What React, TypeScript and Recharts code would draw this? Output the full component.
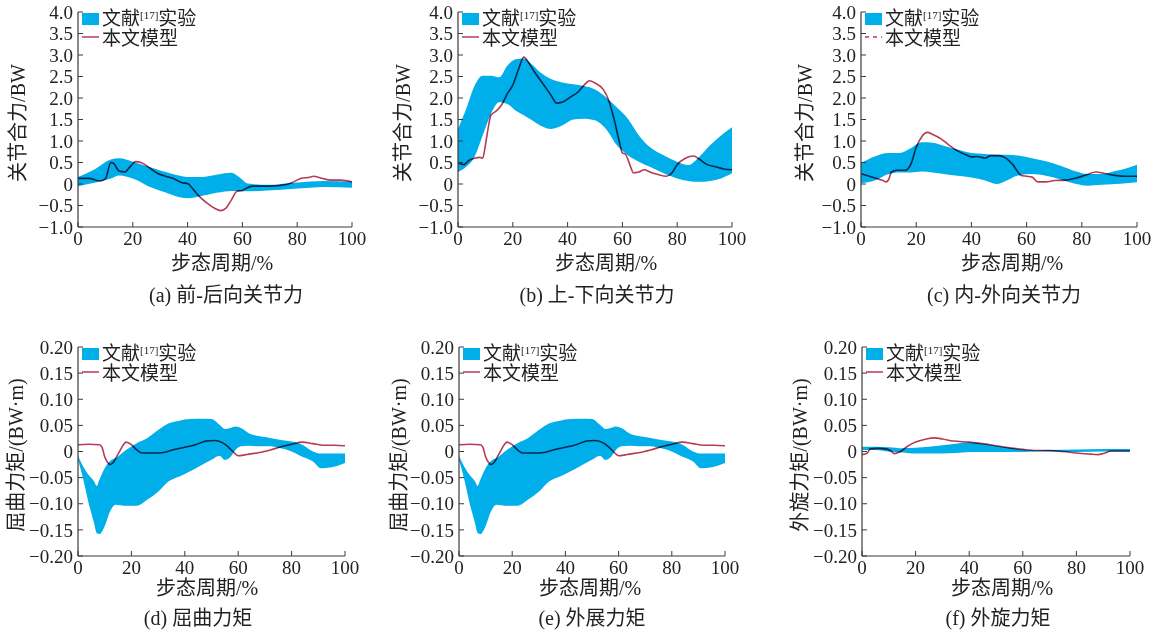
import { ComposedChart, Area, Line, XAxis, YAxis, Legend } from "recharts";

// ── (a) 前-后向关节力 ──
const aBandX = [0, 6, 12, 15, 20, 27, 33, 38, 40, 45, 51, 56, 59, 62, 69, 79, 90, 100];
const aBandHi = [0.16, 0.34, 0.57, 0.6, 0.52, 0.38, 0.26, 0.18, 0.16, 0.16, 0.22, 0.26, 0.15, 0.01, -0.02, 0.03, 0.07, 0.05];
const aBandLo = [-0.05, 0.03, 0.13, 0.2, 0.13, -0.09, -0.22, -0.32, -0.33, -0.28, -0.2, -0.16, -0.16, -0.17, -0.15, -0.11, -0.07, -0.09];
const aLineX = [0, 4, 8, 10, 12, 13, 15, 17, 19, 21, 23, 26, 29, 32, 35, 38, 40, 42, 44, 47, 50, 52, 54, 56, 58, 60, 62, 64, 70, 76, 78, 82, 84, 86, 88, 92, 96, 100];
const aLineY = [0.13, 0.13, 0.07, 0.12, 0.5, 0.48, 0.3, 0.28, 0.4, 0.52, 0.5, 0.38, 0.25, 0.18, 0.12, 0.03, 0.01, -0.12, -0.27, -0.44, -0.57, -0.62, -0.56, -0.37, -0.17, -0.15, -0.08, -0.05, -0.05, -0.01, 0.03, 0.14, 0.15, 0.18, 0.15, 0.09, 0.09, 0.05];

// ── (b) 上-下向关节力 ──
const bBandX = [0, 3, 6, 9, 12, 15, 18, 21, 24, 27, 30, 34, 38, 42, 46, 50, 54, 58, 62, 66, 70, 75, 80, 84, 88, 92, 96, 100];
const bBandHi = [1.28, 1.75, 2.28, 2.52, 2.52, 2.48, 2.75, 2.9, 2.92, 2.78, 2.6, 2.44, 2.36, 2.32, 2.28, 2.2, 2.02, 1.78, 1.52, 1.13, 0.86, 0.67, 0.52, 0.44, 0.63, 0.9, 1.13, 1.32];
const bBandLo = [0.28, 0.4, 0.63, 1.13, 1.63, 1.9, 1.86, 1.71, 1.6, 1.48, 1.36, 1.28, 1.36, 1.5, 1.52, 1.48, 1.28, 0.9, 0.67, 0.52, 0.4, 0.25, 0.13, 0.07, 0.05, 0.07, 0.13, 0.25];
const bLineX = [0, 2, 4, 6, 8, 9, 10, 11, 12, 14, 16, 18, 20, 22, 24, 26, 28, 31, 34, 36, 38, 41, 44, 46, 48, 50, 53, 55, 57, 59, 60, 61, 63, 64, 66, 68, 70, 73, 76, 78, 80, 83, 86, 88, 91, 94, 97, 100];
const bLineY = [0.5, 0.45, 0.55, 0.6, 0.62, 0.6, 0.9, 1.3, 1.6, 1.7, 1.85, 2.1, 2.3, 2.65, 2.95, 2.8, 2.6, 2.33, 2.06, 1.88, 1.9, 2.02, 2.15, 2.3, 2.4, 2.35, 2.2, 1.95, 1.5, 0.95, 0.72, 0.7, 0.4, 0.26, 0.28, 0.33, 0.28, 0.22, 0.18, 0.25, 0.45, 0.6, 0.65, 0.58, 0.45, 0.4, 0.35, 0.33];

// ── (c) 内-外向关节力 ──
const cBandX = [0, 5, 10, 14, 18, 22, 26, 30, 35, 40, 45, 49, 53, 57, 62, 67, 72, 78, 82, 87, 92, 96, 100];
const cBandHi = [0.49, 0.64, 0.72, 0.72, 0.83, 0.97, 0.96, 0.89, 0.8, 0.72, 0.7, 0.68, 0.68, 0.66, 0.6, 0.53, 0.43, 0.29, 0.23, 0.23, 0.3, 0.36, 0.45];
const cBandLo = [0.02, 0.08, 0.23, 0.27, 0.27, 0.29, 0.27, 0.23, 0.19, 0.15, 0.08, 0.0, 0.09, 0.2, 0.23, 0.19, 0.11, 0.0, -0.04, -0.02, 0.0, 0.02, 0.04];
const cLineX = [0, 3, 6, 8, 9, 10, 11, 13, 16, 18, 20, 22, 24, 26, 29, 32, 35, 38, 40, 42, 45, 47, 50, 52, 55, 58, 60, 62, 64, 67, 70, 74, 78, 82, 85, 88, 92, 96, 100];
const cLineY = [0.24, 0.18, 0.12, 0.08, 0.05, 0.1, 0.28, 0.32, 0.32, 0.45, 0.85, 1.1, 1.2, 1.15, 1.05, 0.9, 0.77, 0.68, 0.63, 0.64, 0.6, 0.66, 0.66, 0.62, 0.45, 0.2, 0.18, 0.16, 0.05, 0.05, 0.08, 0.09, 0.14, 0.22, 0.28, 0.25, 0.2, 0.18, 0.18];

// ── (d) 屈曲力矩 ──
const dBandX = [0, 2, 4, 6, 7, 8, 10, 12, 14, 18, 22, 26, 30, 34, 38, 42, 46, 50, 53, 55, 57, 59, 61, 64, 68, 72, 76, 80, 84, 88, 91, 95, 100];
const dBandHi = [-0.008, -0.029, -0.045, -0.057, -0.066, -0.054, -0.032, -0.018, -0.013, 0.003, 0.016, 0.026, 0.041, 0.054, 0.059, 0.062, 0.0625, 0.062, 0.051, 0.043, 0.045, 0.048, 0.045, 0.035, 0.029, 0.026, 0.022, 0.019, 0.013, 0.0, -0.004, -0.004, -0.004];
const dBandLo = [-0.016, -0.054, -0.099, -0.137, -0.156, -0.158, -0.143, -0.115, -0.102, -0.104, -0.104, -0.092, -0.077, -0.057, -0.048, -0.038, -0.027, -0.016, -0.008, -0.016, -0.011, 0.003, 0.01, 0.011, 0.01, 0.01, 0.006, 0.0, -0.01, -0.019, -0.032, -0.03, -0.022];
const dLineX = [0, 4, 8, 9, 10, 11, 12, 13, 15, 17, 18, 20, 22, 24, 28, 32, 36, 40, 44, 48, 51, 54, 56, 58, 60, 62, 64, 68, 72, 76, 80, 84, 88, 92, 96, 100];
const dLineY = [0.013, 0.014, 0.013, 0.008, -0.01, -0.02, -0.025, -0.022, -0.005, 0.013, 0.018, 0.013, 0.003, -0.003, -0.003, -0.002, 0.004, 0.008, 0.013, 0.02, 0.021, 0.017, 0.01, 0.0, -0.008, -0.007, -0.005, -0.002, 0.003, 0.009, 0.014, 0.018, 0.015, 0.012, 0.012, 0.011];

// ── (e) 外展力矩 (same curves as d in the source figure) ──
const eBandX = [0, 2, 4, 6, 7, 8, 10, 12, 14, 18, 22, 26, 30, 34, 38, 42, 46, 50, 53, 55, 57, 59, 61, 64, 68, 72, 76, 80, 84, 88, 91, 95, 100];
const eBandHi = [-0.008, -0.029, -0.045, -0.057, -0.066, -0.054, -0.032, -0.018, -0.013, 0.003, 0.016, 0.026, 0.041, 0.054, 0.059, 0.062, 0.0625, 0.062, 0.051, 0.043, 0.045, 0.048, 0.045, 0.035, 0.029, 0.026, 0.022, 0.019, 0.013, 0.0, -0.004, -0.004, -0.004];
const eBandLo = [-0.016, -0.054, -0.099, -0.137, -0.156, -0.158, -0.143, -0.115, -0.102, -0.104, -0.104, -0.092, -0.077, -0.057, -0.048, -0.038, -0.027, -0.016, -0.008, -0.016, -0.011, 0.003, 0.01, 0.011, 0.01, 0.01, 0.006, 0.0, -0.01, -0.019, -0.032, -0.03, -0.022];
const eLineX = [0, 4, 8, 9, 10, 11, 12, 13, 15, 17, 18, 20, 22, 24, 28, 32, 36, 40, 44, 48, 51, 54, 56, 58, 60, 62, 64, 68, 72, 76, 80, 84, 88, 92, 96, 100];
const eLineY = [0.013, 0.014, 0.013, 0.008, -0.01, -0.02, -0.025, -0.022, -0.005, 0.013, 0.018, 0.013, 0.003, -0.003, -0.003, -0.002, 0.004, 0.008, 0.013, 0.02, 0.021, 0.017, 0.01, 0.0, -0.008, -0.007, -0.005, -0.002, 0.003, 0.009, 0.014, 0.018, 0.015, 0.012, 0.012, 0.011];

// ── (f) 外旋力矩 ──
const fBandX = [0, 5, 10, 15, 20, 25, 30, 35, 40, 45, 50, 55, 60, 65, 70, 80, 90, 100];
const fBandHi = [0.009, 0.009, 0.008, 0.006, 0.007, 0.009, 0.012, 0.015, 0.017, 0.015, 0.011, 0.007, 0.004, 0.002, 0.003, 0.004, 0.005, 0.005];
const fBandLo = [0.003, 0.003, 0.0, -0.002, -0.004, -0.004, -0.004, -0.003, -0.001, -0.001, -0.001, -0.001, -0.001, 0.0, 0.0, -0.001, 0.0, 0.0];
const fLineX = [0, 2, 3, 6, 9, 11, 12, 14, 17, 20, 24, 27, 30, 34, 40, 45, 50, 55, 60, 65, 70, 75, 80, 85, 88, 90, 93, 100];
const fLineY = [-0.006, -0.003, 0.005, 0.006, 0.005, 0.0, -0.004, -0.001, 0.01, 0.018, 0.024, 0.026, 0.024, 0.02, 0.018, 0.015, 0.011, 0.007, 0.004, 0.002, 0.002, 0.0, -0.003, -0.005, -0.006, -0.004, 0.001, 0.001];

// ── axes ──
const X_TICKS = [0, 20, 40, 60, 80, 100];
const FORCE_TICKS = [-1, -0.5, 0, 0.5, 1, 1.5, 2, 2.5, 3, 3.5, 4];
const MOMENT_TICKS = [-0.2, -0.15, -0.1, -0.05, 0, 0.05, 0.1, 0.15, 0.2];

const LEGEND_BAND = "文献";
const LEGEND_REF = "[17]";
const LEGEND_BAND_END = "实验";
const LEGEND_LINE = "本文模型";
const X_TITLE = "步态周期/%";

const BLUE = "#00aeea";
const RED = "#b53c54";
const AXIS = "#3a3a3a";
const FONT = '"Liberation Serif", "Times New Roman", "Noto Sans CJK SC", serif';

const PAD_L = 70;
const PAD_R = 22;
const PAD_T = 14;
const PAD_B = 30;

const fmtForce = (v: number) => (v === 0 ? "0" : v.toFixed(1).replace("-", "−"));
const fmtMoment = (v: number) => (v === 0 ? "0" : v.toFixed(2).replace("-", "−"));

function band(xs: number[], lo: number[], hi: number[]) {
  return xs.map((x, i) => ({ x, r: [lo[i], hi[i]] }));
}
function line(xs: number[], ys: number[]) {
  return xs.map((x, i) => ({ x, v: ys[i] }));
}

const XTick = ({ x, y, payload }: any) => {
  const axisY = y - 4;
  return (
    <g>
      <line x1={x} x2={x} y1={axisY} y2={axisY - 5} stroke={AXIS} />
      <text x={x} y={y} dy="0.72em" textAnchor="middle" fill="#222" fontSize={19} fontFamily={FONT}>
        {payload.value}
      </text>
    </g>
  );
};

const makeYTick = (fmt: (v: number) => string) => ({ x, y, payload }: any) => {
  const axisX = x + 5;
  return (
    <g>
      <line x1={axisX} x2={axisX + 5} y1={y} y2={y} stroke={AXIS} />
      <text x={x} y={y} dy="0.35em" textAnchor="end" fill="#222" fontSize={19} fontFamily={FONT}>
        {fmt(payload.value)}
      </text>
    </g>
  );
};

const LegendBox = ({ dashed }: { dashed?: boolean }) => (
  <div style={{ fontFamily: FONT, fontSize: 19, color: "#222", lineHeight: "20px" }}>
    <div style={{ display: "flex", alignItems: "center", height: 20 }}>
      <span style={{ display: "inline-block", width: 17, height: 12, background: BLUE, marginRight: 3 }} />
      <span>{LEGEND_BAND}</span>
      <span style={{ fontSize: 11, lineHeight: "11px", alignSelf: "flex-start", marginTop: 1 }}>{LEGEND_REF}</span>
      <span>{LEGEND_BAND_END}</span>
    </div>
    <div style={{ display: "flex", alignItems: "center", height: 20 }}>
      <svg width={17} height={12} style={{ marginRight: 3, marginTop: -4 }}>
        <line x1={0} x2={17} y1={6} y2={6} stroke={RED} strokeWidth={1.5} strokeDasharray={dashed ? "4 4" : undefined} />
      </svg>
      <span>{LEGEND_LINE}</span>
    </div>
  </div>
);

interface PanelSpec {
  left: number;
  right: number;
  top: number;
  bottom: number;
  domain: [number, number];
  ticks: number[];
  fmt: (v: number) => string;
  bandData: { x: number; r: number[] }[];
  lineData: { x: number; v: number }[];
  yTitle: string;
  caption: string;
  yTitleX: number;
  titleX: number;
  captionX: number;
  titleY: number;
  captionY: number;
  dashedLegend?: boolean;
}

const TOP = { top: 12, bottom: 227, titleY: 263, captionY: 295 };
const BOT = { top: 347, bottom: 556, titleY: 588, captionY: 618 };

const PANELS: PanelSpec[] = [
  { ...TOP, left: 78, right: 352, domain: [-1, 4], ticks: FORCE_TICKS, fmt: fmtForce, bandData: band(aBandX, aBandLo, aBandHi), lineData: line(aLineX, aLineY), yTitle: "关节合力/BW", caption: "(a) 前-后向关节力", yTitleX: 18, titleX: 222, captionX: 226 },
  { ...TOP, left: 458, right: 732, domain: [-1, 4], ticks: FORCE_TICKS, fmt: fmtForce, bandData: band(bBandX, bBandLo, bBandHi), lineData: line(bLineX, bLineY), yTitle: "关节合力/BW", caption: "(b) 上-下向关节力", yTitleX: 403, titleX: 606, captionX: 597 },
  { ...TOP, left: 861, right: 1137, domain: [-1, 4], ticks: FORCE_TICKS, fmt: fmtForce, bandData: band(cBandX, cBandLo, cBandHi), lineData: line(cLineX, cLineY), yTitle: "关节合力/BW", caption: "(c) 内-外向关节力", yTitleX: 805, titleX: 1012, captionX: 1004, dashedLegend: true },
  { ...BOT, left: 78, right: 345, domain: [-0.2, 0.2], ticks: MOMENT_TICKS, fmt: fmtMoment, bandData: band(dBandX, dBandLo, dBandHi), lineData: line(dLineX, dLineY), yTitle: "屈曲力矩/(BW·m)", caption: "(d) 屈曲力矩", yTitleX: 16, titleX: 207, captionX: 198 },
  { ...BOT, left: 459, right: 725, domain: [-0.2, 0.2], ticks: MOMENT_TICKS, fmt: fmtMoment, bandData: band(eBandX, eBandLo, eBandHi), lineData: line(eLineX, eLineY), yTitle: "屈曲力矩/(BW·m)", caption: "(e) 外展力矩", yTitleX: 399, titleX: 590, captionX: 592 },
  { ...BOT, left: 862, right: 1130, domain: [-0.2, 0.2], ticks: MOMENT_TICKS, fmt: fmtMoment, bandData: band(fBandX, fBandLo, fBandHi), lineData: line(fLineX, fLineY), yTitle: "外旋力矩/(BW·m)", caption: "(f) 外旋力矩", yTitleX: 800, titleX: 1002, captionX: 998 },
];

const centered = (x: number, y: number, extra = ""): React.CSSProperties => ({
  position: "absolute",
  left: x,
  top: y,
  transform: `translate(-50%, -50%) ${extra}`,
  whiteSpace: "nowrap",
  fontFamily: FONT,
  fontSize: 20,
  color: "#222",
  lineHeight: 1,
});

function Panel({ p }: { p: PanelSpec }) {
  const W = p.right - p.left + PAD_L + PAD_R;
  const H = p.bottom - p.top + PAD_T + PAD_B;
  return (
    <>
      <div style={{ position: "absolute", left: p.left - PAD_L, top: p.top - PAD_T, width: W, height: H }}>
        <ComposedChart width={W} height={H} margin={{ top: PAD_T, right: PAD_R, bottom: 0, left: 0 }}>
          <XAxis
            type="number"
            dataKey="x"
            domain={[0, 100]}
            ticks={X_TICKS}
            interval={0}
            height={PAD_B}
            tickSize={0}
            tickMargin={4}
            axisLine={{ stroke: AXIS, strokeWidth: 1.2 }}
            tick={XTick}
            allowDataOverflow
          />
          <YAxis
            type="number"
            domain={p.domain}
            ticks={p.ticks}
            interval={0}
            width={PAD_L}
            tickSize={0}
            tickMargin={5}
            axisLine={{ stroke: AXIS, strokeWidth: 1.2 }}
            tick={makeYTick(p.fmt)}
            allowDataOverflow
          />
          <Area
            data={p.bandData}
            dataKey="r"
            type="monotone"
            stroke="none"
            fill={BLUE}
            fillOpacity={1}
            isAnimationActive={false}
            legendType="none"
          />
          <Line
            data={p.lineData}
            dataKey="v"
            type="monotone"
            stroke={RED}
            strokeWidth={1.6}
            dot={false}
            className="blend"
            isAnimationActive={false}
            legendType="none"
          />
          <Legend
            layout="horizontal"
            align="center"
            verticalAlign="middle"
            wrapperStyle={{ left: PAD_L + 4, top: PAD_T - 3, width: "auto", height: "auto" }}
            content={() => <LegendBox dashed={p.dashedLegend} />}
          />
        </ComposedChart>
      </div>
      <div style={centered(p.yTitleX, (p.top + p.bottom) / 2 + 3, "rotate(-90deg)")}>{p.yTitle}</div>
      <div style={centered(p.titleX, p.titleY)}>{X_TITLE}</div>
      <div style={centered(p.captionX, p.captionY)}>{p.caption}</div>
    </>
  );
}

export default function App() {
  return (
    <div style={{ position: "absolute", left: 0, top: 0, width: 1166, height: 635, background: "#fff", overflow: "hidden" }}>
      <style>{`.blend { mix-blend-mode: multiply; }`}</style>
      {PANELS.map((p, i) => (
        <Panel key={i} p={p} />
      ))}
    </div>
  );
}
